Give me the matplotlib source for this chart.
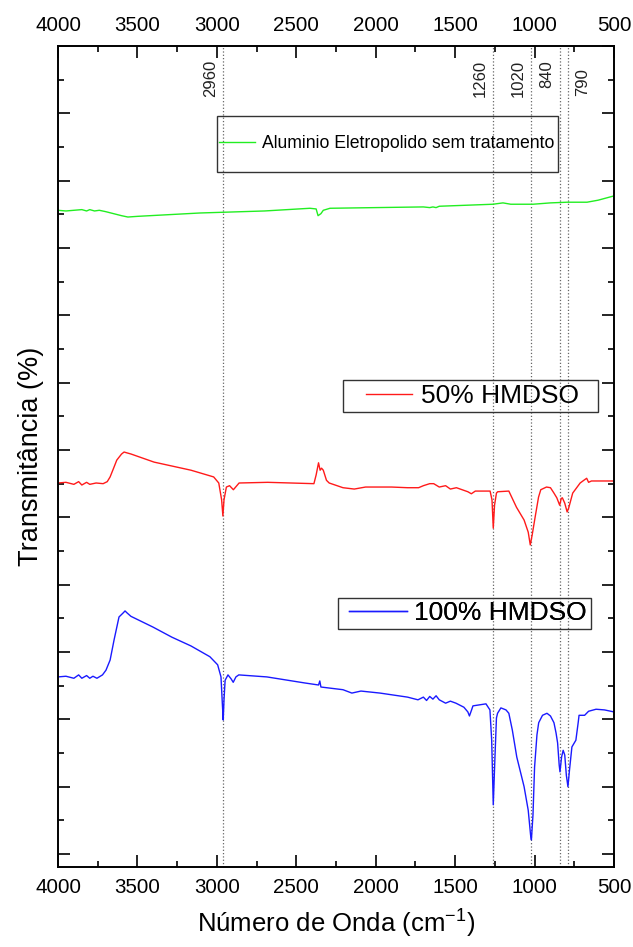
import matplotlib
matplotlib.use("Agg")
import matplotlib.pyplot as plt
from matplotlib.lines import Line2D
from matplotlib.patches import Rectangle
from matplotlib.ticker import MultipleLocator

plt.rcParams["font.family"] = ["Liberation Sans", "DejaVu Sans"]
plt.rcParams["mathtext.fontset"] = "custom"
plt.rcParams["mathtext.rm"] = "Liberation Sans"
plt.rcParams["mathtext.it"] = "Liberation Sans:italic"

# --- data (wavenumber in cm-1, transmittance in arbitrary offset units)
wn_green = [4000, 3950, 3900, 3850, 3820, 3800, 3770, 3740, 3700, 3650, 3600, 3560,
            3500, 3106, 2700, 2414, 2375, 2363, 2345, 2330, 2288, 2000, 1700, 1660,
            1640, 1620, 1600, 1262, 1199, 1150, 1010, 900, 796, 670, 600, 506, 500]
t_green = [95.6, 95.5, 95.6, 95.7, 95.5, 95.7, 95.5, 95.6, 95.4, 95.1, 94.8, 94.6,
           94.7, 95.2, 95.5, 95.9, 95.8, 94.8, 95.1, 95.6, 95.9, 96.0, 96.1, 96.0,
           96.1, 96.0, 96.2, 96.5, 96.7, 96.5, 96.5, 96.7, 96.8, 96.8, 97.1, 97.7, 97.7]

wn_red = [4000, 3950, 3900, 3870, 3850, 3820, 3800, 3760, 3716, 3690, 3672, 3650,
          3630, 3600, 3584, 3570, 3540, 3395, 3163, 3020, 2988, 2970, 2962, 2955,
          2940, 2920, 2896, 2860, 2680, 2389, 2375, 2360, 2350, 2341, 2330, 2310,
          2293, 2206, 2135, 2064, 1900, 1800, 1730, 1700, 1660, 1635, 1600, 1560,
          1530, 1492, 1420, 1398, 1373, 1280, 1268, 1260, 1252, 1240, 1232, 1162,
          1114, 1066, 1040, 1027, 1015, 996, 975, 961, 925, 900, 878, 860, 842,
          832, 825, 810, 795, 785, 760, 713, 690, 672, 660, 642, 500]
t_red = [55.1, 55.2, 54.9, 55.3, 54.8, 55.2, 54.9, 55.1, 55.0, 55.3, 56.0, 57.3,
         58.5, 59.4, 59.7, 59.6, 59.4, 58.2, 57.0, 56.0, 55.1, 52.6, 50.2, 52.6,
         54.5, 54.7, 54.1, 55.1, 55.2, 55.0, 56.3, 58.1, 57.0, 57.3, 57.0, 55.5,
         55.1, 54.4, 54.2, 54.5, 54.5, 54.4, 54.4, 54.7, 55.0, 55.0, 54.5, 54.7,
         54.2, 54.4, 53.8, 53.5, 53.9, 53.9, 52.6, 48.4, 51.8, 53.6, 53.8, 53.9,
         51.5, 49.6, 47.8, 45.9, 47.4, 50.1, 53.0, 54.1, 54.5, 54.4, 53.6, 52.9, 51.8,
         52.8, 52.9, 52.1, 50.8, 51.4, 53.6, 55.1, 55.5, 55.8, 55.2, 55.4, 55.4]

wn_blue = [4000, 3950, 3900, 3870, 3850, 3820, 3800, 3780, 3755, 3720, 3698, 3672,
           3647, 3616, 3590, 3578, 3565, 3541, 3402, 3283, 3163, 3044, 2995, 2974,
           2965, 2960, 2955, 2948, 2930, 2910, 2897, 2880, 2862, 2685, 2446, 2360,
           2352, 2345, 2206, 2150, 2093, 1973, 1800, 1734, 1700, 1680, 1660, 1640,
           1620, 1600, 1560, 1530, 1495, 1445, 1420, 1410, 1395, 1388, 1306, 1281,
           1270, 1260, 1250, 1240, 1233, 1212, 1180, 1162, 1140, 1112, 1066, 1040,
           1025, 1020, 1010, 1000, 985, 974, 950, 922, 900, 878, 865, 855, 845, 840,
           830, 820, 810, 800, 790, 780, 765, 740, 725, 720, 685, 660, 613, 560, 500]
t_blue = [26.3, 26.4, 26.1, 26.6, 26.1, 26.5, 26.1, 26.4, 26.1, 26.6, 27.3, 28.8,
          31.8, 35.2, 35.8, 36.1, 35.8, 35.3, 33.7, 32.2, 30.9, 29.3, 28.1, 26.3,
          22.1, 19.9, 22.9, 25.8, 26.6, 26.0, 25.5, 26.3, 26.6, 26.3, 25.4, 25.1,
          25.7, 24.8, 24.4, 23.9, 24.2, 23.9, 23.3, 22.9, 23.3, 22.8, 23.4, 23.0,
          23.5, 22.9, 22.4, 22.7, 22.4, 21.8, 21.1, 20.5, 21.5, 22.0, 22.3, 21.4,
          16.9, 7.3, 14.0, 20.2, 20.9, 21.7, 21.4, 20.9, 18.4, 14.4, 10.0, 6.5,
          2.8, 2.1, 5.8, 12.9, 17.7, 19.5, 20.6, 20.9, 20.5, 19.5, 18.0, 16.5, 13.2, 12.2,
          14.4, 15.4, 14.7, 11.7, 10.0, 12.5, 15.9, 16.9, 19.6, 20.6, 20.6, 21.2, 21.5, 21.4, 21.1]

labels = ["Aluminio Eletropolido sem tratamento", "50% HMDSO", "100% HMDSO"]
colors = ["#22ee22", "#ff1a1a", "#1a1aff"]

peaks = [2960, 1260, 1020, 840, 790]
peak_labels = ["2960", "1260", "1020", "840", "790"]

W, H = 633, 947
AX_L, AX_R, AX_T, AX_B = 58, 614, 46, 867


def fx(px):
    return (px - AX_L) / (AX_R - AX_L)


def fy(py):
    return (AX_B - py) / (AX_B - AX_T)


fig = plt.figure(figsize=(W / 100, H / 100), dpi=100)
ax = fig.add_axes([AX_L / W, 1 - AX_B / H, (AX_R - AX_L) / W, (AX_B - AX_T) / H])

for wn, t, c in [(wn_green, t_green, colors[0]), (wn_red, t_red, colors[1]), (wn_blue, t_blue, colors[2])]:
    ax.plot(wn, t, color=c, lw=1.0)

for p in peaks:
    ax.axvline(p, color="#666666", ls=":", lw=0.9, zorder=1)

for p, lab in zip(peaks, peak_labels):
    if p == 790:
        ax.annotate(lab, xy=(p, 1), xycoords=("data", "axes fraction"), xytext=(5, -16),
                    textcoords="offset points", rotation=90, ha="left", va="top", fontsize=12, color="#222222")
    else:
        ax.annotate(lab, xy=(p, 1), xycoords=("data", "axes fraction"), xytext=(-4, -10),
                    textcoords="offset points", rotation=90, ha="right", va="top", fontsize=12, color="#222222")

ax.set_xlim(4000, 500)
ax.set_ylim(-1.93, 120)
ax.xaxis.set_major_locator(MultipleLocator(500))
ax.xaxis.set_minor_locator(MultipleLocator(250))
ax.yaxis.set_major_locator(MultipleLocator(10))
ax.yaxis.set_minor_locator(MultipleLocator(5))
ax.tick_params(which="both", direction="in", top=True, right=True, labeltop=True,
               labelleft=False, width=1.2)
ax.tick_params(which="major", length=8.6, labelsize=14.8, pad=8)
ax.tick_params(which="minor", length=4.3)
for s in ax.spines.values():
    s.set_linewidth(1.4)

ax.set_xlabel("Número de Onda (cm$^{-1}$)", fontsize=18.5, labelpad=8)
ax.set_ylabel("Transmitância (%)", fontsize=19.5)
ax.yaxis.set_label_coords(fx(44), 0.5)

# legend boxes: (box x0, x1, y0, y1, line x0, line x1, text x, fontsize)
boxes = [(217, 558, 116, 172, 219, 255, 262, 12.7),
         (343, 598, 380, 412, 366, 412, 421, 19),
         (338, 591, 598, 629, 349, 407, 414, 19)]
for lab, c, (bx0, bx1, by0, by1, lx0, lx1, tx, fs) in zip(labels, colors, boxes):
    fs_px = fs / 0.72
    h = Line2D([], [], color=c, lw=1.0)
    leg = ax.legend([h], [lab], loc="center left", bbox_to_anchor=(fx(lx0), fy((by0 + by1) / 2)),
                    frameon=False, borderpad=0, borderaxespad=0, fontsize=fs,
                    handlelength=(lx1 - lx0) / fs_px, handletextpad=(tx - lx1) / fs_px)
    ax.add_artist(leg)
    ax.add_patch(Rectangle((fx(bx0), fy(by1)), fx(bx1) - fx(bx0), fy(by0) - fy(by1),
                           transform=ax.transAxes, fill=False, edgecolor="#333333", lw=1.0, zorder=5))

fig.savefig("out.png", dpi=100)
